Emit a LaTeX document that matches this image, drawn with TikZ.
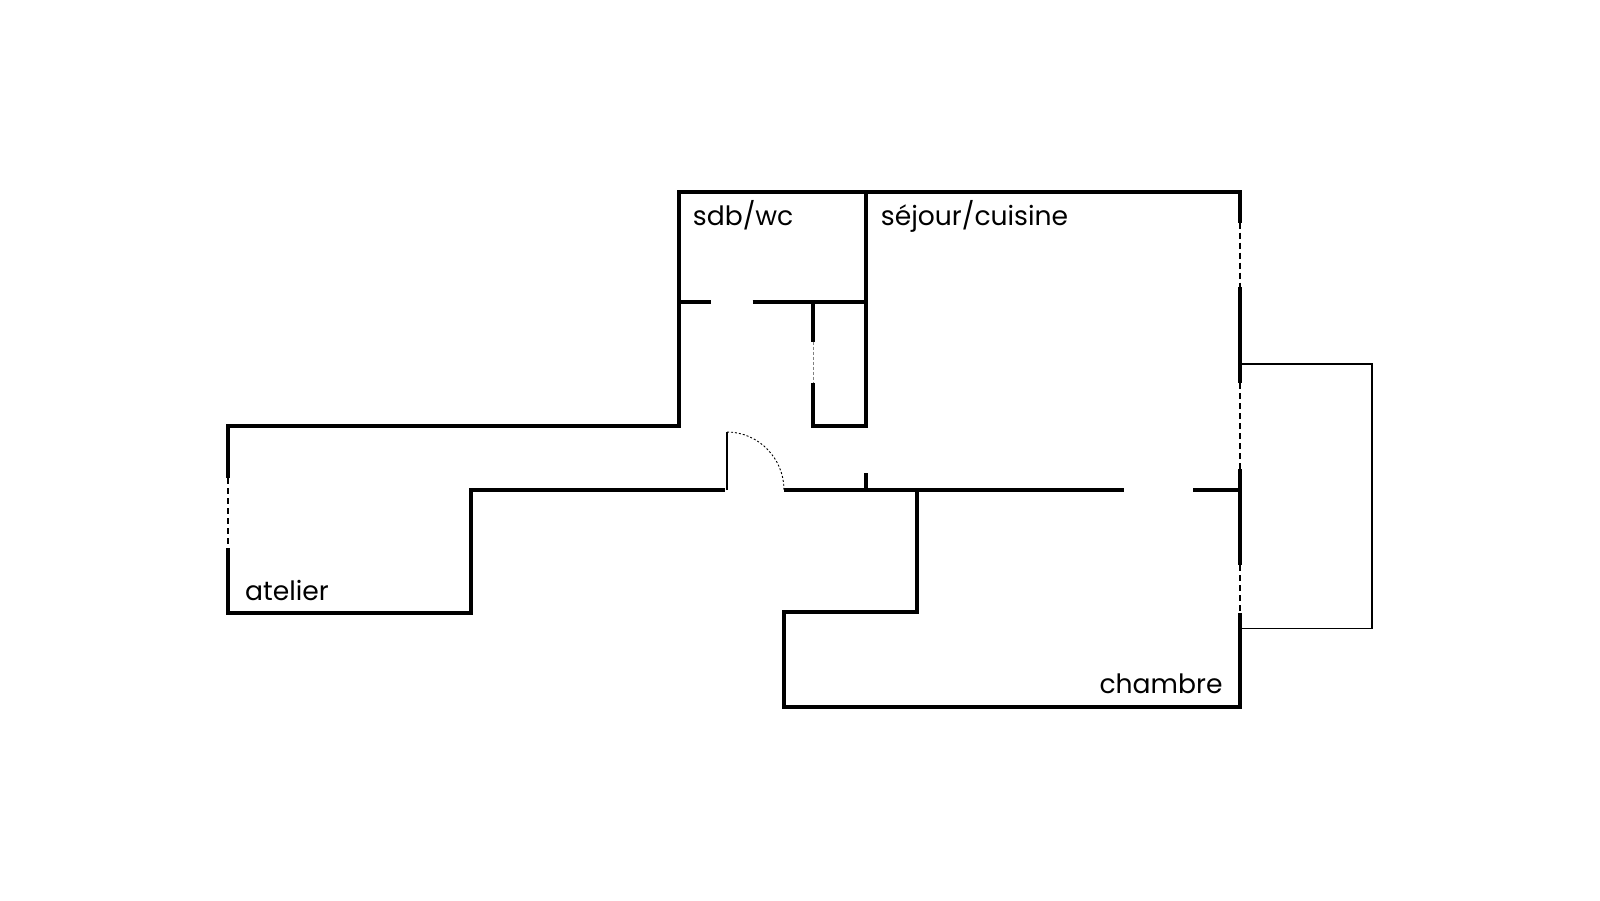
\documentclass[tikz,border=0pt]{standalone}
\usepackage{fontspec}
\setmainfont{Poppins}
\tikzset{
  wall/.style={line width=4pt, line join=miter},
  fine/.style={line width=1.3pt},
  glass/.style={line width=1.3pt, dash pattern=on 6pt off 4pt},
  glazed/.style={line width=1pt, gray, dash pattern=on 3pt off 2pt},
  leaf/.style={line width=0.9pt, dash pattern=on 2pt off 2pt},
  room/.style={anchor=base west, inner sep=0pt, font=\fontsize{26.6}{30}\selectfont}
}
\begin{document}
\begin{tikzpicture}[x=1pt, y=-1pt]
  \useasboundingbox (0,0) rectangle (1600,900);
  % outer walls
  \draw[wall] (1240,222.7) -- (1240,192) -- (679,192) -- (679,425.7) -- (228,425.7) -- (228,478);
  \draw[wall] (228,548) -- (228,613.3) -- (470.7,613.3) -- (470.7,490) -- (725,490);
  \draw[wall] (917,490) -- (917,611.7) -- (784,611.7) -- (784,706.7) -- (1240,706.7) -- (1240,613);
  \draw[wall] (1240,287) -- (1240,383);
  \draw[wall] (1240,469) -- (1240,565);
  % inner walls
  \draw[wall] (866,192) -- (866,425.7) -- (813,425.7) -- (813,383.3);
  \draw[wall] (813,341.7) -- (813,302);
  \draw[wall] (679,302) -- (710.7,302);
  \draw[wall] (752.7,302) -- (866,302);
  \draw[wall] (784,490) -- (1124,490);
  \draw[wall] (1193,490) -- (1240,490);
  \draw[wall] (866,473.3) -- (866,490);
  % windows
  \draw[glass] (1240,222.7) -- (1240,287);
  \draw[glass] (1240,383) -- (1240,469);
  \draw[glass] (1240,565) -- (1240,613);
  \draw[glass] (228,478) -- (228,548);
  \draw[glazed] (813,341.7) -- (813,383.3);
  % door
  \draw[fine] (727,490) -- (727,432);
  \draw[leaf] (727,432) .. controls (758.5,432) and (784,458.5) .. (784,490);
  % balcony
  \draw[fine] (1240,364) -- (1372,364) -- (1372,628.7) -- (1240,628.7);
  % rooms
  \node[room] (sdb) at (692.7,225) {sdb/wc};
  \node[room] (sejour) at (880.7,225) {séjour/cuisine};
  \node[room] (atelier) at (245,600) {atelier};
  \node[room, anchor=base east] (chambre) at (1222.7,693.3) {chambre};
\end{tikzpicture}
\end{document}
